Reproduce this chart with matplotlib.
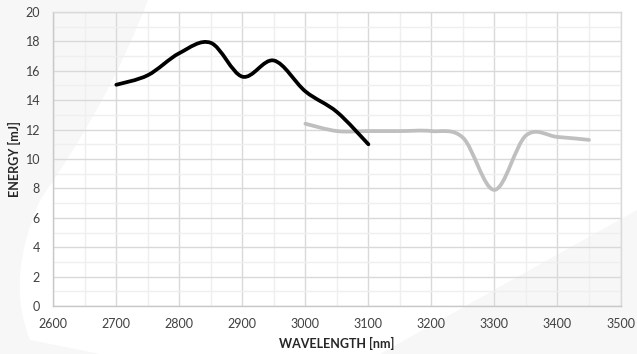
import matplotlib
matplotlib.use("Agg")
import matplotlib.pyplot as plt
from matplotlib.path import Path
from matplotlib.patches import PathPatch
from matplotlib.ticker import MultipleLocator

# ---- data ----
black_x = [2700, 2750, 2800, 2850, 2900, 2950, 3000, 3050, 3100]
black_y = [15.05, 15.7, 17.2, 17.9, 15.6, 16.7, 14.6, 13.2, 11.0]
gray_x = [3000, 3050, 3100, 3150, 3200, 3250, 3300, 3350, 3400, 3450]
gray_y = [12.4, 11.9, 11.9, 11.9, 11.9, 11.45, 7.9, 11.6, 11.5, 11.3]
x_ticks = [2600, 2700, 2800, 2900, 3000, 3100, 3200, 3300, 3400, 3500]
y_ticks = [0, 2, 4, 6, 8, 10, 12, 14, 16, 18, 20]
x_label = "WAVELENGTH [nm]"
y_label = "ENERGY [mJ]"


def smooth_path(xs, ys):
    """Catmull-Rom style smoothed path (like Excel's smoothed line) as cubic Beziers."""
    pts = list(zip(xs, ys))
    n = len(pts)
    verts = [pts[0]]
    codes = [Path.MOVETO]
    for i in range(n - 1):
        p0 = pts[i - 1] if i > 0 else pts[i]
        p1 = pts[i]
        p2 = pts[i + 1]
        p3 = pts[i + 2] if i + 2 < n else pts[i + 1]
        c1 = (p1[0] + (p2[0] - p0[0]) / 6.0, p1[1] + (p2[1] - p0[1]) / 6.0)
        c2 = (p2[0] - (p3[0] - p1[0]) / 6.0, p2[1] - (p3[1] - p1[1]) / 6.0)
        verts += [c1, c2, p2]
        codes += [Path.CURVE4, Path.CURVE4, Path.CURVE4]
    return Path(verts, codes)


fig = plt.figure(figsize=(6.37, 3.54), dpi=100)
fig.patch.set_facecolor("white")

# faint background decoration shapes
bg = fig.add_axes([0, 0, 1, 1], zorder=-10)
bg.set_xlim(0, 637)
bg.set_ylim(354, 0)
bg.axis("off")
left_shape = Path([(0, 0), (148, 0), (110, 100), (40, 200), (5, 280), (30, 340), (100, 354), (0, 354), (0, 0)],
                  [Path.MOVETO, Path.LINETO, Path.CURVE3, Path.CURVE3, Path.CURVE3, Path.CURVE3, Path.LINETO, Path.LINETO, Path.CLOSEPOLY])
bg.add_patch(PathPatch(left_shape, facecolor="#f7f7f7", edgecolor="none"))
br_shape = Path([(380, 354), (637, 210), (637, 354), (380, 354)],
                [Path.MOVETO, Path.LINETO, Path.LINETO, Path.CLOSEPOLY])
bg.add_patch(PathPatch(br_shape, facecolor="#f7f7f7", edgecolor="none"))

ax = fig.add_axes([53.3 / 637, 1 - 306 / 354, (620.5 - 53.3) / 637, (306 - 12) / 354])
ax.set_facecolor("none")
ax.set_xlim(2600, 3500)
ax.set_ylim(0, 20)
ax.set_xticks(x_ticks)
ax.set_yticks(y_ticks)
ax.xaxis.set_minor_locator(MultipleLocator(50))
ax.yaxis.set_minor_locator(MultipleLocator(1))
ax.grid(which="major", color="#d9d9d9", linewidth=1.0)
ax.grid(which="minor", color="#efefef", linewidth=1.0)
ax.set_axisbelow(True)
ax.tick_params(which="both", length=0)
ax.tick_params(axis="x", labelsize=9.0, labelcolor="#404040", pad=8.5)
ax.tick_params(axis="y", labelsize=9.0, labelcolor="#404040", pad=9.5)
for lab in ax.get_xticklabels() + ax.get_yticklabels():
    lab.set_family("Lato")
for s in ax.spines.values():
    s.set_color("#d9d9d9")
    s.set_linewidth(1.0)
ax.spines["left"].set_color("#c8c8c8")
ax.spines["bottom"].set_color("#c8c8c8")

ax.add_patch(PathPatch(smooth_path(gray_x, gray_y), facecolor="none", edgecolor="#bfbfbf",
                       linewidth=2.7, capstyle="round", joinstyle="round", zorder=3))
ax.add_patch(PathPatch(smooth_path(black_x, black_y), facecolor="none", edgecolor="#000000",
                       linewidth=2.7, capstyle="round", joinstyle="round", zorder=4))

fig.text(336.9 / 637, 1 - 343 / 354, x_label, ha="center", va="center",
         fontsize=9.0, fontweight="bold", family="Lato", color="#262626")
fig.text(14.5 / 637, 1 - 159 / 354, y_label, ha="center", va="center", rotation=90,
         fontsize=9.0, fontweight="bold", family="Lato", color="#262626")

fig.savefig("out.png", dpi=100)
